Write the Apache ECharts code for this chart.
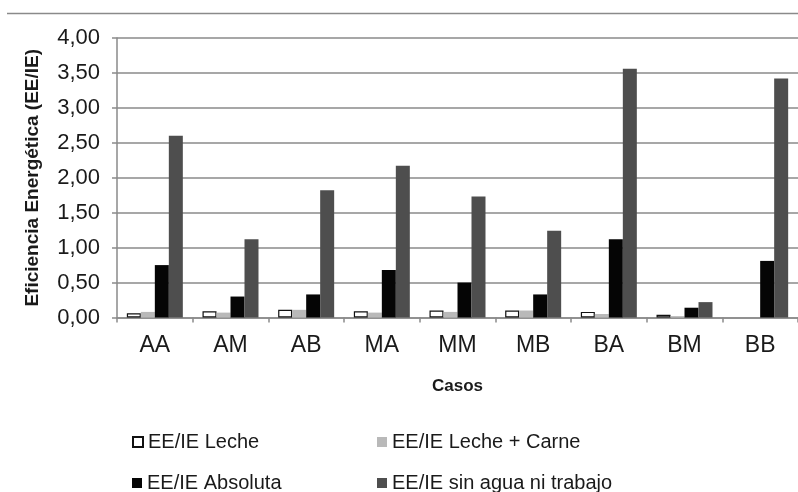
<!DOCTYPE html>
<html>
<head>
<meta charset="utf-8">
<script src="https://cdn.jsdelivr.net/npm/echarts@6/dist/echarts.min.js"></script>
<style>html,body{margin:0;padding:0;background:#fff}#c{width:798px;height:492px}</style>
</head>
<body>
<div id="c"></div>
<script>
var categories = ['AA','AM','AB','MA','MM','MB','BA','BM','BB'];
var seriesNames = ['EE/IE Leche','EE/IE Leche + Carne','EE/IE Absoluta','EE/IE sin agua ni trabajo'];
var leche = [0.06, 0.09, 0.11, 0.09, 0.10, 0.10, 0.08, 0.04, null];
var lecheCarne = [0.08, 0.07, 0.11, 0.07, 0.08, 0.10, 0.05, 0.02, null];
var absoluta = [0.75, 0.30, 0.33, 0.68, 0.50, 0.33, 1.12, 0.14, 0.81];
var sinAgua = [2.60, 1.12, 1.82, 2.17, 1.73, 1.24, 3.56, 0.22, 3.42];
var yTicks = {min: 0, max: 4, interval: 0.5};

var chart = echarts.init(document.getElementById('c'));
var font = '"Liberation Sans", Arial, sans-serif';
var styles = [
  {color: '#ffffff', borderColor: '#111111', borderWidth: 1.2},
  {color: '#b9b9b9'},
  {color: '#050505'},
  {color: '#4e4e4e'}
];
var datas = [leche, lecheCarne, absoluta, sinAgua];
var legendPos = [[127, 427], [372, 427], [127, 468], [372, 468]];

chart.setOption({
  animation: false,
  backgroundColor: '#ffffff',
  textStyle: {fontFamily: font},
  grid: {left: 117, top: 38, right: -3, bottom: 174.5, containLabel: false},
  legend: seriesNames.map(function (n, i) {
    return {
      data: [n], left: legendPos[i][0], top: legendPos[i][1],
      itemWidth: 10, itemHeight: 10, itemGap: 4,
      icon: 'rect',
      textStyle: {fontFamily: font, fontSize: 20, color: '#1a1a1a', padding: [0, 0, 0, 0]}
    };
  }),
  xAxis: {
    type: 'category', data: categories,
    axisLine: {lineStyle: {color: '#8a8a8a', width: 1.5}},
    axisTick: {show: true, alignWithLabel: false, length: 5, lineStyle: {color: '#8a8a8a', width: 1.5}},
    axisLabel: {fontSize: 23, color: '#1a1a1a', margin: 17, fontFamily: font},
    name: 'Casos', nameLocation: 'middle', nameGap: 60,
    nameTextStyle: {fontSize: 17, fontWeight: 'bold', color: '#1a1a1a', fontFamily: font}
  },
  yAxis: {
    type: 'value', min: yTicks.min, max: yTicks.max, interval: yTicks.interval,
    axisLine: {show: true, lineStyle: {color: '#8a8a8a', width: 1.5}},
    axisTick: {show: true, length: 5, lineStyle: {color: '#8a8a8a', width: 1.5}},
    splitLine: {lineStyle: {color: '#8a8a8a', width: 1.5}},
    axisLabel: {fontSize: 22, color: '#1a1a1a', margin: 17, fontFamily: font,
      formatter: function (v) { return v.toFixed(2).replace('.', ','); }},
    name: 'Eficiencia Energética (EE/IE)', nameLocation: 'middle', nameGap: 75,
    nameTextStyle: {fontSize: 19, fontWeight: 'bold', color: '#1a1a1a', fontFamily: font}
  },
  series: seriesNames.map(function (n, i) {
    return {
      name: n, type: 'bar', data: datas[i],
      barGap: '0%', barCategoryGap: '26%',
      itemStyle: styles[i]
    };
  }),
  graphic: [{
    type: 'line', shape: {x1: 7, y1: 13.5, x2: 798, y2: 13.5},
    style: {stroke: '#8a8a8a', lineWidth: 1.5}
  }]
});
</script>
</body>
</html>
